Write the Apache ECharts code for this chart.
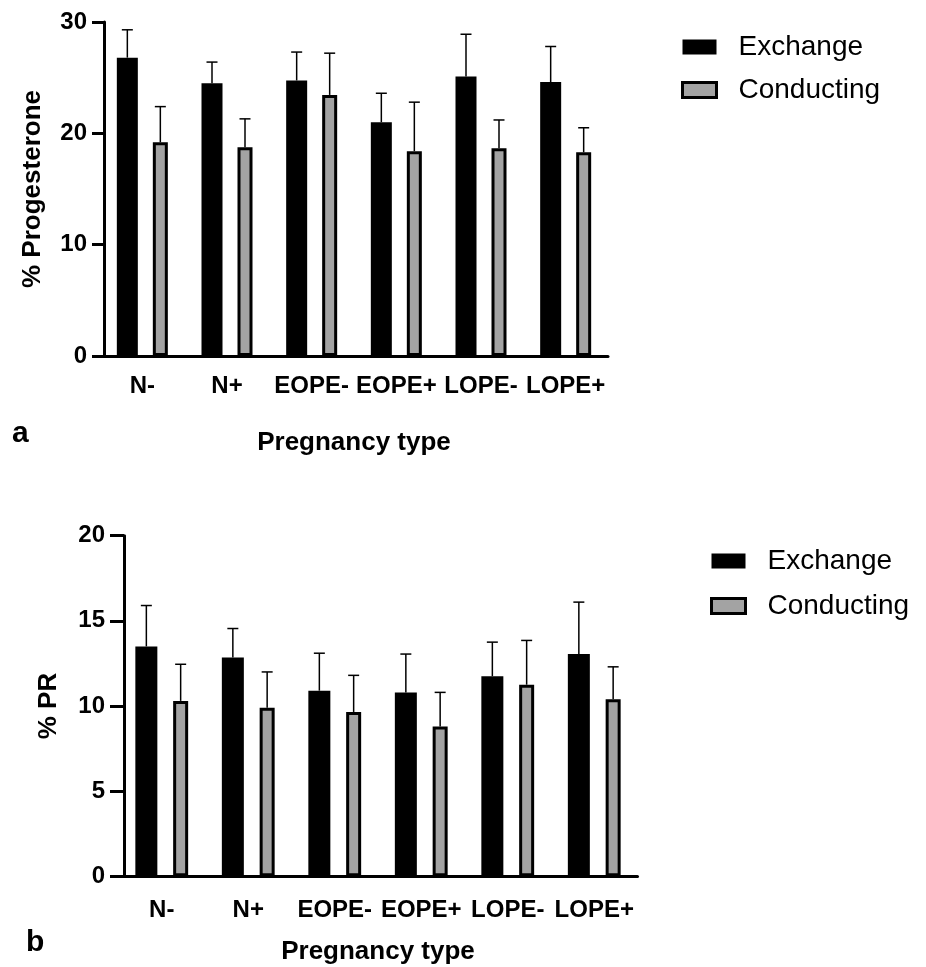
<!DOCTYPE html>
<html>
<head>
<meta charset="utf-8">
<script src="https://cdn.jsdelivr.net/npm/echarts@6/dist/echarts.min.js"></script>
<style>
html,body{margin:0;padding:0;background:#fff;}
#chart{width:926px;height:967px;}
</style>
</head>
<body>
<div id="chart"></div>
<script>
// ---- data ----
const categories = ['N-', 'N+', 'EOPE-', 'EOPE+', 'LOPE-', 'LOPE+'];
const seriesNames = ['Exchange', 'Conducting'];

// Panel a: % Progesterone (mean and SD)
const progExchange = [26.8, 24.5, 24.75, 21.0, 25.1, 24.6];
const progExchangeSD = [2.5, 1.9, 2.55, 2.6, 3.8, 3.2];
const progConducting = [19.2, 18.75, 23.45, 18.4, 18.65, 18.3];
const progConductingSD = [3.2, 2.55, 3.75, 4.4, 2.55, 2.2];
const progTicks = [0, 10, 20, 30];

// Panel b: % PR (mean and SD)
const prExchange = [13.5, 12.85, 10.9, 10.8, 11.75, 13.05];
const prExchangeSD = [2.4, 1.7, 2.2, 2.25, 2.0, 3.05];
const prConducting = [10.3, 9.9, 9.65, 8.8, 11.25, 10.4];
const prConductingSD = [2.15, 2.1, 2.15, 2.0, 2.6, 1.9];
const prTicks = [0, 5, 10, 15, 20];

// ---- styling ----
const FONT = "'Liberation Sans', Arial, Helvetica, sans-serif";
const GRAY = '#a3a3a3';

function errData(means, sds) {
  return means.map((m, i) => [i, m, m + sds[i]]);
}

function errRender(offset) {
  return function (params, api) {
    const c0 = api.coord([api.value(0), api.value(1)]);
    const c1 = api.coord([api.value(0), api.value(2)]);
    const x = c0[0] + offset;
    return {
      type: 'group',
      children: [
        { type: 'line', shape: { x1: x, y1: c0[1], x2: x, y2: c1[1] }, style: { stroke: '#000', lineWidth: 1.5 } },
        { type: 'line', shape: { x1: x - 5.5, y1: c1[1], x2: x + 5.5, y2: c1[1] }, style: { stroke: '#000', lineWidth: 1.5 } }
      ]
    };
  };
}

function panel(idx, cfg) {
  const total = cfg.exW + cfg.gap + cfg.coW;
  const exOff = -total / 2 + cfg.exW / 2;
  const coOff = total / 2 - cfg.coW / 2;
  const barGap = (cfg.gap / cfg.exW * 100) + '%';
  return {
    grid: { left: cfg.left, top: cfg.top, width: cfg.width, height: cfg.height, containLabel: false },
    xAxis: {
      type: 'category', gridIndex: idx, data: categories,
      axisLine: { lineStyle: { color: '#000', width: 3 } },
      axisTick: { alignWithLabel: true, length: cfg.tickLen, lineStyle: { color: '#000', width: 3 } },
      axisLabel: { color: '#000', fontFamily: FONT, fontWeight: 'bold', fontSize: 24, margin: cfg.xLabelMargin, interval: 0 },
      name: 'Pregnancy type', nameLocation: 'middle', nameGap: cfg.xNameGap,
      nameTextStyle: { color: '#000', fontFamily: FONT, fontWeight: 'bold', fontSize: 26 }
    },
    yAxis: {
      type: 'value', gridIndex: idx, min: 0, max: cfg.ticks[cfg.ticks.length - 1],
      interval: cfg.ticks[1] - cfg.ticks[0], offset: cfg.yOffset,
      axisLine: { show: true, lineStyle: { color: '#000', width: 3 } },
      axisTick: { show: true, length: cfg.tickLen, lineStyle: { color: '#000', width: 3 } },
      splitLine: { show: false },
      axisLabel: { color: '#000', fontFamily: FONT, fontWeight: 'bold', fontSize: 24, margin: cfg.yLabelMargin },
      name: cfg.yName, nameLocation: 'middle', nameGap: cfg.yNameGap,
      nameTextStyle: { color: '#000', fontFamily: FONT, fontWeight: 'bold', fontSize: 26 }
    },
    series: [
      {
        name: 'Exchange', type: 'bar', xAxisIndex: idx, yAxisIndex: idx,
        data: cfg.ex, barWidth: cfg.exW, barGap: barGap,
        itemStyle: { color: '#000' }, emphasis: { disabled: true }, z: 2
      },
      {
        name: 'Conducting', type: 'bar', xAxisIndex: idx, yAxisIndex: idx,
        data: cfg.co, barWidth: cfg.coW, barGap: barGap,
        itemStyle: { color: GRAY, borderColor: '#000', borderWidth: 3 }, emphasis: { disabled: true }, z: 2
      },
      {
        name: 'Exchange SD', type: 'custom', xAxisIndex: idx, yAxisIndex: idx,
        data: errData(cfg.ex, cfg.exSD), renderItem: errRender(exOff), z: 3, silent: true
      },
      {
        name: 'Conducting SD', type: 'custom', xAxisIndex: idx, yAxisIndex: idx,
        data: errData(cfg.co, cfg.coSD), renderItem: errRender(coOff), z: 3, silent: true
      }
    ],
    legend: {
      data: [{ name: 'Exchange' }, { name: 'Conducting', itemStyle: { borderWidth: 3, borderColor: '#000' } }],
      orient: 'vertical', left: cfg.legendLeft, top: cfg.legendTop,
      itemWidth: 34, itemHeight: 15, itemGap: cfg.legendGap,
      icon: 'rect', selectedMode: false,
      textStyle: { color: '#000', fontFamily: FONT, fontSize: 28, lineHeight: 30, padding: [0, 0, 0, 17] }
    }
  };
}

const pA = panel(0, {
  left: 100, top: 22, width: 508, height: 334, yOffset: -4, tickLen: 12,
  exW: 21, coW: 15, gap: 15,
  ex: progExchange, exSD: progExchangeSD, co: progConducting, coSD: progConductingSD,
  ticks: progTicks, yName: '% Progesterone', yNameGap: 58, yLabelMargin: 17,
  xLabelMargin: 18, xNameGap: 74,
  legendLeft: 676, legendTop: 27, legendGap: 13
});
const pB = panel(1, {
  left: 118.5, top: 535.7, width: 519, height: 340.6, yOffset: -5.5, tickLen: 14,
  exW: 22, coW: 15, gap: 15.8,
  ex: prExchange, exSD: prExchangeSD, co: prConducting, coSD: prConductingSD,
  ticks: prTicks, yName: '% PR', yNameGap: 62, yLabelMargin: 19,
  xLabelMargin: 22, xNameGap: 63,
  legendLeft: 705, legendTop: 541, legendGap: 15
});

const option = {
  backgroundColor: '#fff',
  animation: false,
  grid: [pA.grid, pB.grid],
  xAxis: [pA.xAxis, pB.xAxis],
  yAxis: [pA.yAxis, pB.yAxis],
  legend: [pA.legend, pB.legend],
  series: pA.series.concat(pB.series),
  graphic: [
    { type: 'text', left: 12, top: 419, style: { text: 'a', font: 'bold 30px ' + FONT, fill: '#000' } },
    { type: 'text', left: 26, top: 928, style: { text: 'b', font: 'bold 30px ' + FONT, fill: '#000' } }
  ]
};

const chart = echarts.init(document.getElementById('chart'), null, { renderer: 'canvas' });
chart.setOption(option);
</script>
</body>
</html>
